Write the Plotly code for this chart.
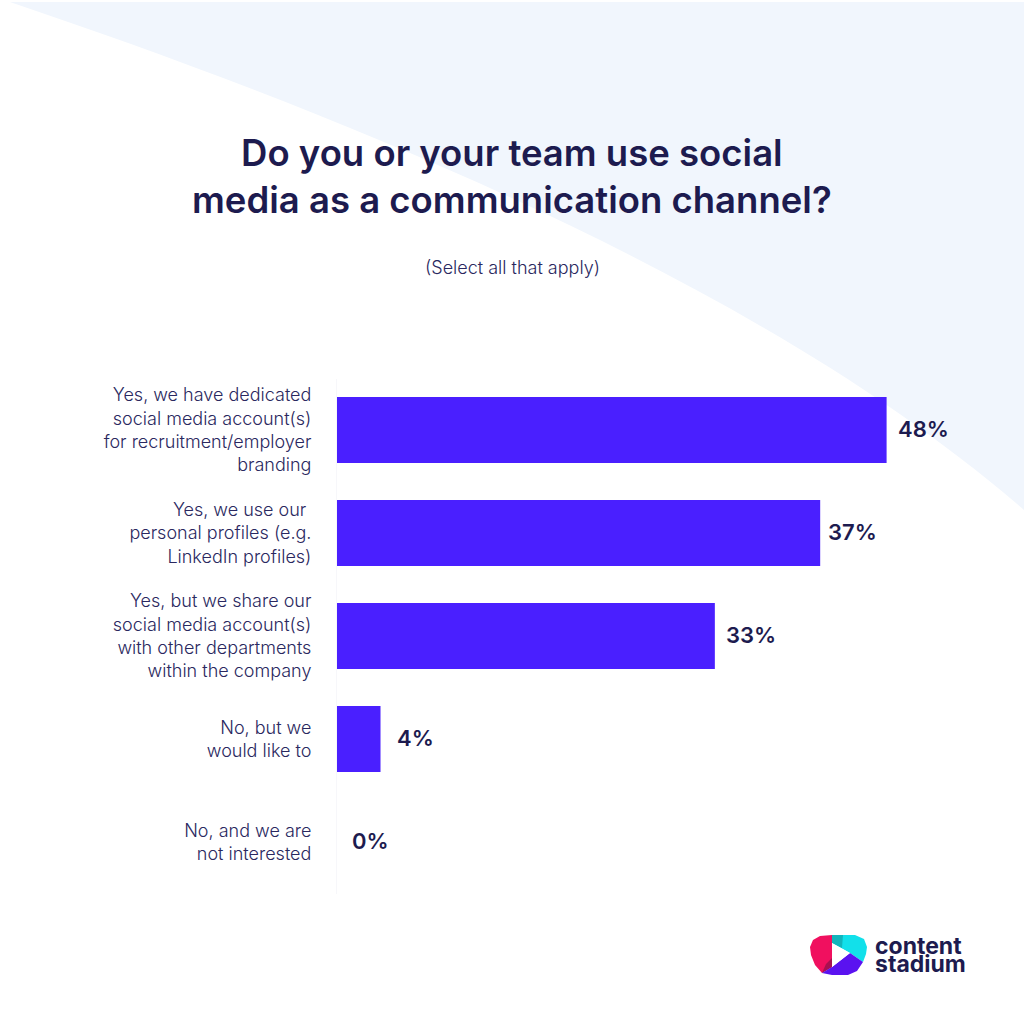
import plotly.graph_objects as go

# Survey answers, top to bottom
categories = [
    "Yes, we have dedicated<br>social media account(s)<br>for recruitment/employer<br>branding",
    "Yes, we use our <br>personal profiles (e.g.<br>LinkedIn profiles)",
    "Yes, but we share our<br>social media account(s)<br>with other departments<br>within the company",
    "No, but we<br>would like to",
    "No, and we are<br>not interested",
]
# Bar lengths as drawn (the 37% bar is drawn longer than its label says)
bar_values = [48, 42.2, 33, 3.8, 0]
value_labels = ["48%", "37%", "33%", "4%", "0%"]
label_gaps = [9, 6, 9, 14, 13]

NAVY = "#1d1b4f"
LABEL = "#2a2860"
BAR = "#4a1fff"
FONT = "Inter"


def px(x):
    return x / 1024


def py(y):
    return 1 - y / 1024


def path(points):
    return "M " + " L ".join(f"{px(x)},{py(y)}" for x, y in points) + " Z"


def piece(points, color):
    return dict(type="path", xref="paper", yref="paper", path=path(points),
                fillcolor=color, line=dict(width=0))


fig = go.Figure(
    go.Bar(
        x=bar_values,
        y=categories,
        orientation="h",
        marker=dict(color=BAR, line=dict(width=0)),
        hoverinfo="skip",
    )
)

# Value labels next to the bars
for cat, val, lab, gap in zip(categories, bar_values, value_labels, label_gaps):
    fig.add_annotation(
        x=val, y=cat, text=lab, showarrow=False, xanchor="left", xshift=gap, yshift=1,
        font=dict(family=FONT, size=22, color=NAVY, weight=600),
    )

# Title, subtitle, logo wordmark
fig.add_annotation(
    x=px(512), y=py(176), xref="paper", yref="paper", showarrow=False,
    xanchor="center", yanchor="middle",
    text="Do you or your team use social<br>media as a communication channel?",
    font=dict(family=FONT, size=36.5, color=NAVY, weight=600),
)
fig.add_annotation(
    x=px(512), y=py(267), xref="paper", yref="paper", showarrow=False,
    xanchor="center", yanchor="middle",
    text="(Select all that apply)",
    font=dict(family=FONT, size=18, color=LABEL, weight=300),
)
for word, y in [("content", 946), ("stadium", 964)]:
    fig.add_annotation(
        x=px(875), y=py(y), xref="paper", yref="paper", showarrow=False,
        xanchor="left", yanchor="middle", xshift=-2,
        text=word,
        font=dict(family=FONT, size=23, color=NAVY, weight=700),
    )

# Pale background swoosh
swoosh = (
    f"M {px(10)},{py(2)} C {px(330)},{py(110)} {px(760)},{py(280)} {px(1024)},{py(510)} "
    f"L {px(1024)},{py(2)} Z"
)
shapes = [
    dict(type="path", xref="paper", yref="paper", path=swoosh, fillcolor="#f1f6fd",
         line=dict(width=0), layer="below"),
    # Logo pieces, layered for the shading
    piece([(832, 935), (820, 936), (813, 940), (810, 947), (811, 955), (815, 965), (822, 973), (832, 967)], "#f0105f"),
    piece([(832, 958), (826, 964), (822, 973), (832, 967)], "#a81050"),
    piece([(832, 935), (855, 935), (864, 939), (867, 947), (866, 954), (863, 962), (850, 953), (832, 943)], "#12e0ea"),
    piece([(832, 935), (843, 935), (842, 948), (832, 943)], "#12b4bc"),
    piece([(822, 973), (832, 967), (850, 953), (863, 962), (857, 971), (848, 975), (832, 975)], "#5a12f0"),
    piece([(832, 943), (832, 967), (850, 953)], "white"),
]

fig.update_layout(
    width=1024,
    height=1024,
    margin=dict(l=0, r=0, t=0, b=0),
    paper_bgcolor="white",
    plot_bgcolor="rgba(0,0,0,0)",
    bargap=0.36,
    showlegend=False,
    shapes=shapes,
    font=dict(family=FONT),
    xaxis=dict(domain=[px(337), 1], range=[0, 60], visible=False),
    yaxis=dict(
        domain=[py(893.5), py(378.5)],
        autorange="reversed",
        ticks="outside",
        ticklen=21,
        tickcolor="rgba(0,0,0,0)",
        showgrid=False,
        showline=True,
        linecolor="#f7f7fa",
        tickfont=dict(family=FONT, size=18, color=LABEL, weight=300),
    ),
)

# Drop the browser's default page margin so the figure sits at 0,0
fig.write_html(
    "out.html",
    config={"displayModeBar": False},
    post_script="document.body.style.margin='0';",
)
